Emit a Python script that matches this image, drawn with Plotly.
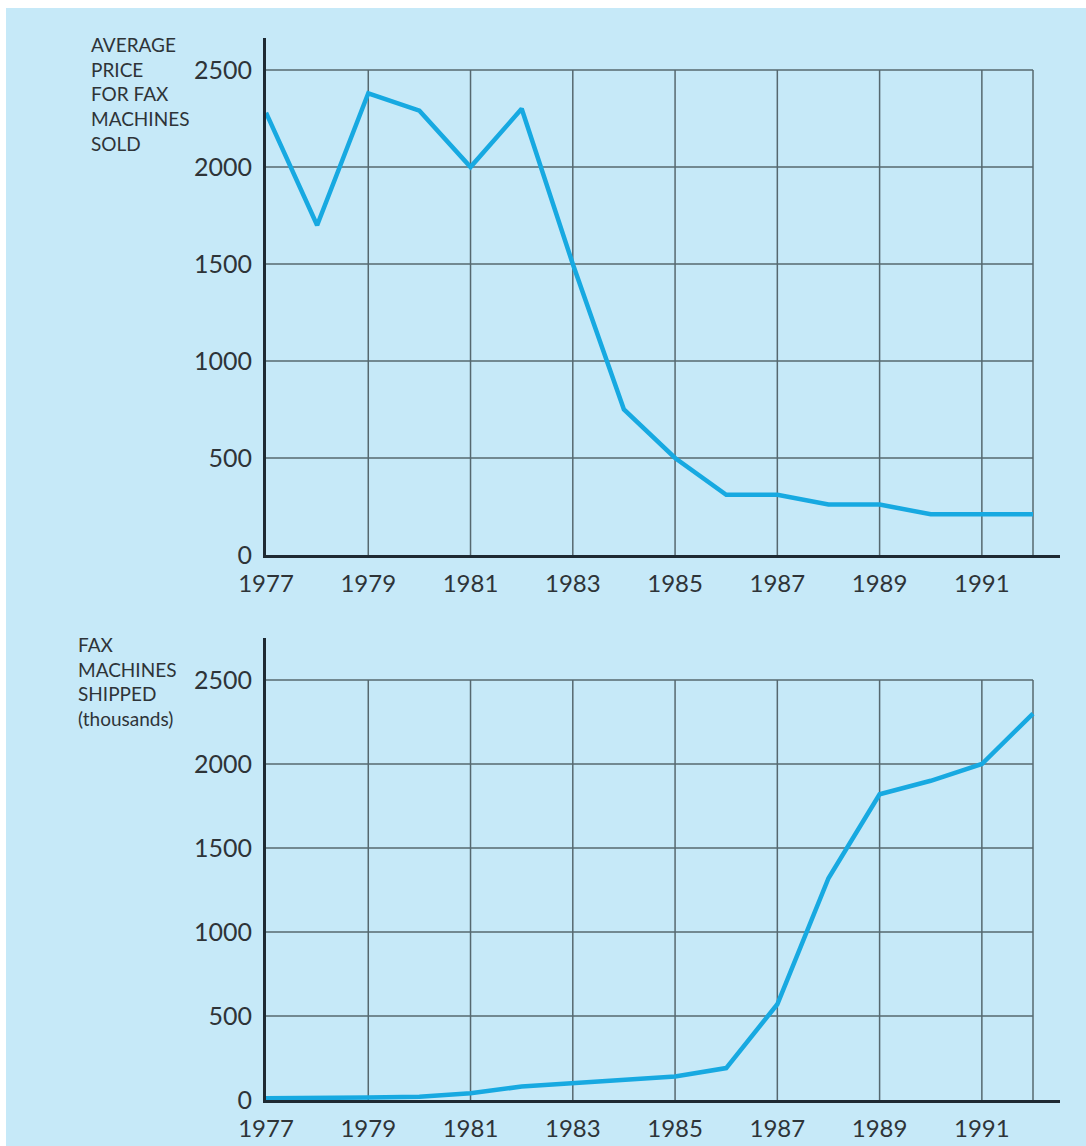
import plotly.graph_objects as go

# Fax machine market, 1977-1992
years = list(range(1977, 1993))
avg_price = [2280, 1700, 2380, 2290, 2000, 2300, 1500, 750, 500, 310, 310, 260, 260, 210, 210, 210]
shipped_thousands = [10, 10, 15, 20, 40, 80, 100, 120, 140, 190, 570, 1320, 1820, 1900, 2000, 2300]

x_tick_vals = [1977, 1979, 1981, 1983, 1985, 1987, 1989, 1991]
x_grid_vals = [1979, 1981, 1983, 1985, 1987, 1989, 1991, 1992]
y_tick_vals = [0, 500, 1000, 1500, 2000, 2500]

BG = "#C6E9F8"
LINE = "#17A9E1"
AXIS = "#1E2A33"
GRID = "#56686F"
TEXT = "#2E3438"
FONT = "Lato"

W, H = 1086, 1146

fig = go.Figure()

fig.add_trace(go.Scatter(x=years, y=avg_price, mode="lines",
                         line=dict(color=LINE, width=4.5), xaxis="x", yaxis="y",
                         hoverinfo="skip", showlegend=False))
fig.add_trace(go.Scatter(x=years, y=shipped_thousands, mode="lines",
                         line=dict(color=LINE, width=4.5), xaxis="x2", yaxis="y2",
                         hoverinfo="skip", showlegend=False))

shapes = [dict(type="rect", xref="paper", yref="paper", x0=6 / W, x1=1, y0=0, y1=1 - 8 / H,
               fillcolor=BG, line=dict(width=0), layer="below")]

# grid box limited to 1977-1992 and 0-2500
for xa, ya in (("x", "y"), ("x2", "y2")):
    for yv in y_tick_vals[1:]:
        shapes.append(dict(type="line", xref=xa, yref=ya, x0=years[0], x1=years[-1], y0=yv, y1=yv,
                           line=dict(color=GRID, width=1.5), layer="below"))
    for xv in x_grid_vals:
        shapes.append(dict(type="line", xref=xa, yref=ya, x0=xv, x1=xv, y0=0, y1=y_tick_vals[-1],
                           line=dict(color=GRID, width=1.5), layer="below"))

x_left, x_right = 266 / W, 1060 / W
x_range = [1977, 1977 + (1060 - 266) / ((1033 - 266) / 15)]


def xaxis_cfg(anchor):
    return dict(domain=[x_left, x_right], range=x_range, anchor=anchor, automargin=False,
                tickvals=x_tick_vals, ticktext=[str(v) for v in x_tick_vals],
                showgrid=False, zeroline=False, showline=True, linecolor=AXIS, linewidth=3,
                ticks="", tickfont=dict(family=FONT, size=24, color=TEXT), ticklabelstandoff=5,
                fixedrange=True)


def yaxis_cfg(anchor, top_px, bottom_px, top_val):
    return dict(domain=[(H - bottom_px) / H, (H - top_px) / H], range=[0, top_val], anchor=anchor,
                automargin=False,
                tickvals=y_tick_vals, ticktext=[str(v) for v in y_tick_vals],
                showgrid=False, zeroline=False, showline=True, linecolor=AXIS, linewidth=3,
                ticks="", tickfont=dict(family=FONT, size=25, color=TEXT), ticklabelstandoff=6,
                fixedrange=True)


fig.update_layout(
    width=W, height=H,
    margin=dict(l=0, r=0, t=0, b=0, autoexpand=False),
    paper_bgcolor="white",
    plot_bgcolor="rgba(0,0,0,0)",
    xaxis=xaxis_cfg("y"),
    yaxis=yaxis_cfg("x", 38, 555, 2500 * (555 - 38) / (555 - 70)),
    xaxis2=xaxis_cfg("y2"),
    yaxis2=yaxis_cfg("x2", 638, 1100, 2500 * (1100 - 638) / (1100 - 680)),
    shapes=shapes,
    annotations=[
        dict(text="AVERAGE<br>PRICE<br>FOR FAX<br>MACHINES<br>SOLD", xref="paper", yref="paper",
             x=89 / W, y=1 - 31 / H, xanchor="left", yanchor="top", align="left", showarrow=False,
             font=dict(family=FONT, size=19, color=TEXT)),
        dict(text="FAX<br>MACHINES<br>SHIPPED<br>(thousands)", xref="paper", yref="paper",
             x=76 / W, y=1 - 631 / H, xanchor="left", yanchor="top", align="left", showarrow=False,
             font=dict(family=FONT, size=19, color=TEXT)),
    ],
)

fig.write_html("out.html")
